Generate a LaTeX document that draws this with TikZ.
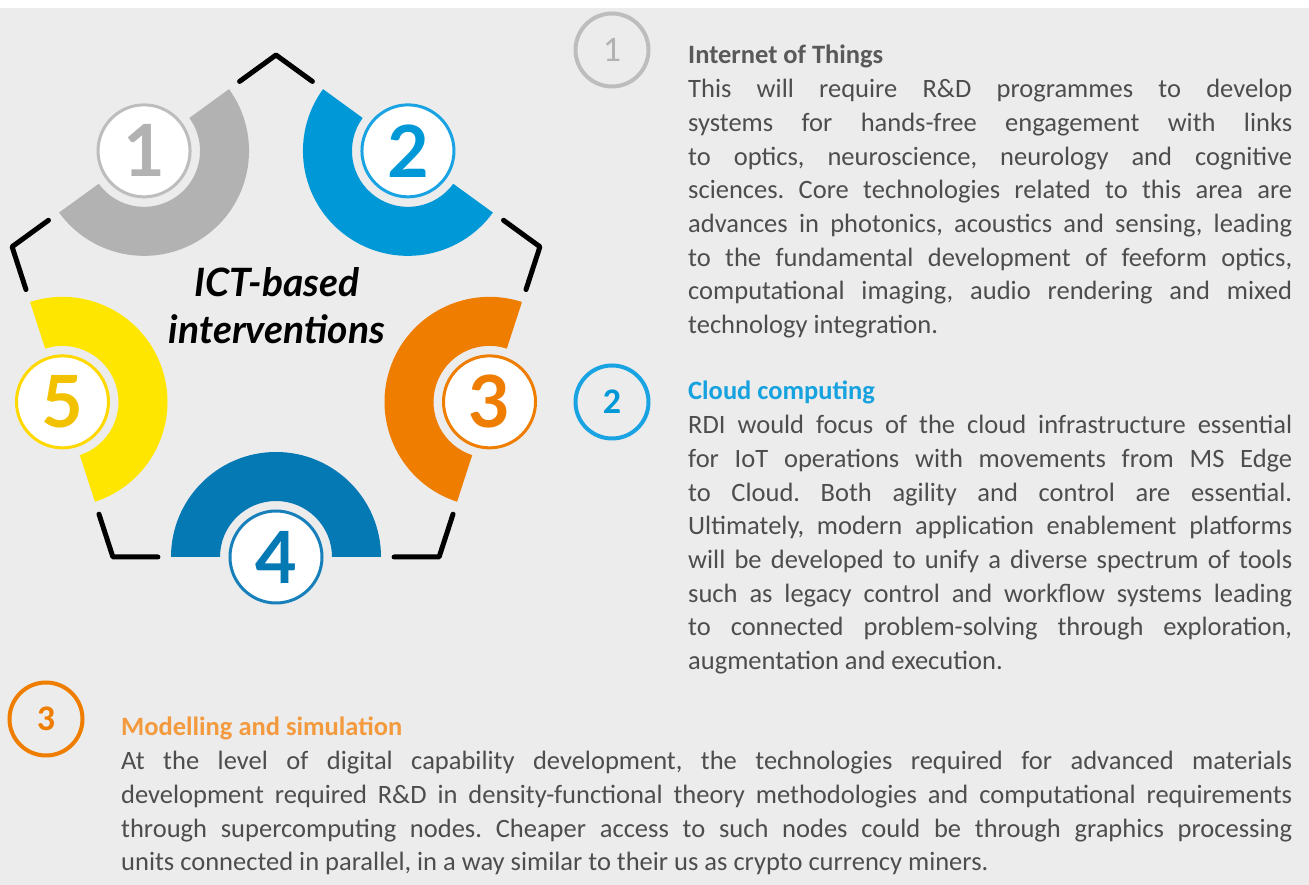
\documentclass[tikz,border=0pt]{standalone}
\usepackage{fontspec}
\setmainfont{Carlito}
\newfontfamily\latofont{Lato}
\usetikzlibrary{calc}
\definecolor{bg}{HTML}{ECECEC}
\definecolor{txt}{HTML}{4D4D4D}
\definecolor{hgray}{HTML}{595959}
\definecolor{arcA}{HTML}{B2B2B2}
\definecolor{ringA}{HTML}{BDBDBD}
\definecolor{arcB}{HTML}{0098D6}
\definecolor{ringB}{HTML}{1AA3E2}
\definecolor{arcC}{HTML}{EE7D00}
\definecolor{arcD}{HTML}{0479B4}
\definecolor{ringD}{HTML}{1780BA}
\definecolor{arcE}{HTML}{FFE600}
\definecolor{ringE}{HTML}{FFD800}
\definecolor{numE}{HTML}{F2C200}
\definecolor{headB}{HTML}{16A2DE}
\definecolor{headC}{HTML}{F49A3E}
\tikzset{
  bignum/.style={circle, fill=white, line width=3pt, minimum size=92pt, inner sep=0pt,
    font=\latofont\fontsize{72}{72}\selectfont\bfseries},
  smallnum/.style={circle, line width=4pt, minimum size=73pt, inner sep=0pt,
    font=\fontsize{36}{36}\selectfont},
  corner/.style={line width=5pt, line cap=round, line join=round, black},
  titleline/.style={anchor=base, inner sep=0pt, font=\latofont\fontsize{39}{47}\selectfont\bfseries\itshape},
  para/.style={anchor=base west, inner sep=0pt}
}
\newcommand{\parasetup}{\noindent\fontsize{26.5}{33.7}\selectfont\color{txt}\frenchspacing
  \pretolerance=-1 \tolerance=10000 \hyphenpenalty=10000 \exhyphenpenalty=10000 }
\begin{document}
\begin{tikzpicture}[x=1pt,y=1pt]
\useasboundingbox (0,0) rectangle (1309,885);
\fill[white] (0,0) rectangle (1309,885);
\fill[bg] (0,0) rectangle (1309,877);

\coordinate (O) at (276,552.5);
\foreach \i/\a in {1/90,2/18,3/306,4/234,5/162}
  \coordinate (V\i) at ($(O)+(\a:277.5)$);

% corner pieces
\foreach \p/\v/\n in {5/1/2, 1/2/3, 2/3/4, 3/4/5, 4/5/1}
  \draw[corner] ($(V\v)!45pt!(V\p)$) -- (V\v) -- ($(V\v)!45pt!(V\n)$);

% half rings
\foreach \k/\p/\c in {1/126/arcA, 2/54/arcB, 3/-18/arcC, 4/-90/arcD, 5/198/arcE}{
  \coordinate (M\k) at ($(O)+(\p:224.5)$);
  \fill[\c] ($(M\k)+({\p+90}:105)$) arc[start angle={\p+90}, end angle={\p+270}, radius=105]
     -- ($(M\k)+({\p+270}:56)$) arc[start angle={\p+270}, end angle={\p+90}, radius=56] -- cycle;
}

\node[bignum, draw=ringA, text=arcA] (n1) at (M1) {1};
\node[bignum, draw=ringB, text=arcB] (n2) at (M2) {2};
\node[bignum, draw=arcC, text=arcC] (n3) at (M3) {3};
\node[bignum, draw=ringD, text=arcD] (n4) at (M4) {4};
\node[bignum, draw=ringE, text=numE] (n5) at (M5) {5};

\node[titleline] (t1) at (277,588) {ICT-based};
\node[titleline] (t2) at (277,541) {interventions};

% right side circles
\node[smallnum, draw=ringA, text=arcA] (s1) at (612,835) {1};
\node[smallnum, draw=ringB, text=arcB, font=\fontsize{36}{36}\selectfont\bfseries] (s2) at (612,483) {2};
\node[smallnum, draw=arcC, text=arcC, font=\fontsize{36}{36}\selectfont\bfseries] (s3) at (46,166) {3};

\node[para] (p1) at (688,821) {\parbox[t]{604pt}{\parasetup
{\bfseries\color{hgray}Internet of Things}\\
This will require R\&D programmes to develop\linebreak
systems for hands-free engagement with links\linebreak
to optics, neuroscience, neurology and cognitive\linebreak
sciences. Core technologies related to this area are\linebreak
advances in photonics, acoustics and sensing, leading\linebreak
to the fundamental development of feeform optics,\linebreak
computational imaging, audio rendering and mixed\linebreak
technology integration.}};

\node[para] (p2) at (688,485) {\parbox[t]{604pt}{\parasetup
{\bfseries\color{headB}Cloud computing}\\
RDI would focus of the cloud infrastructure essential\linebreak
for IoT operations with movements from MS Edge\linebreak
to Cloud. Both agility and control are essential.\linebreak
Ultimately, modern application enablement platforms\linebreak
will be developed to unify a diverse spectrum of tools\linebreak
such as legacy control and workflow systems leading\linebreak
to connected problem-solving through exploration,\linebreak
augmentation and execution.}};

\node[para] (p3) at (121,149) {\parbox[t]{1171pt}{\parasetup
{\bfseries\color{headC}Modelling and simulation}\\
At the level of digital capability development, the technologies required for advanced materials\linebreak
development required R\&D in density-functional theory methodologies and computational requirements\linebreak
through supercomputing nodes. Cheaper access to such nodes could be through graphics processing\linebreak
units connected in parallel, in a way similar to their us as crypto currency miners.}};
\end{tikzpicture}
\end{document}
